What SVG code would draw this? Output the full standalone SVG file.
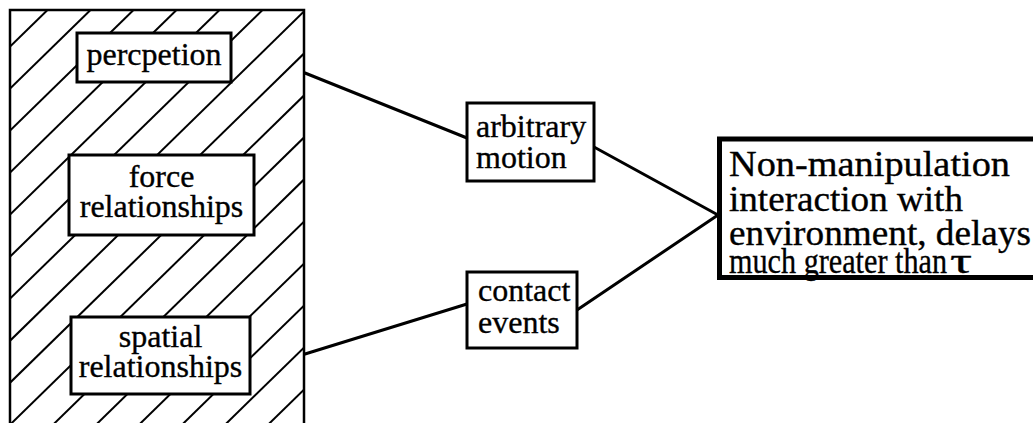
<svg xmlns="http://www.w3.org/2000/svg" width="1033" height="423" viewBox="0 0 1033 423">
<style>
.bg{fill:#fff}
.hatch line{stroke:#000;stroke-width:2}
.node{fill:#fff;stroke:#000;stroke-width:3}
.big{fill:#fff;stroke:#000;stroke-width:5}
.t{font-family:"Liberation Serif","Times New Roman",serif;font-size:32px;fill:#000;stroke:#000;stroke-width:0.35}
.tb{font-family:"Liberation Serif","Times New Roman",serif;font-size:36px;fill:#000;stroke:#000;stroke-width:0.35}
.conn line{stroke:#000;stroke-width:3;stroke-linecap:round}
</style>
<defs>
<clipPath id="clipL"><rect x="10" y="10" width="294" height="420"/></clipPath>
</defs>
<rect class="bg" x="0" y="0" width="1033" height="423"/>
<g id="hatched-region">
<g class="hatch" clip-path="url(#clipL)">
<line x1="47.5" y1="10" x2="-392.6" y2="440"/>
<line x1="90.5" y1="10" x2="-349.6" y2="440"/>
<line x1="133.5" y1="10" x2="-306.6" y2="440"/>
<line x1="176.5" y1="10" x2="-263.6" y2="440"/>
<line x1="219.5" y1="10" x2="-220.6" y2="440"/>
<line x1="262.5" y1="10" x2="-177.6" y2="440"/>
<line x1="305.5" y1="10" x2="-134.6" y2="440"/>
<line x1="348.5" y1="10" x2="-91.6" y2="440"/>
<line x1="391.5" y1="10" x2="-48.6" y2="440"/>
<line x1="434.5" y1="10" x2="-5.6" y2="440"/>
<line x1="477.5" y1="10" x2="37.4" y2="440"/>
<line x1="520.5" y1="10" x2="80.4" y2="440"/>
<line x1="563.5" y1="10" x2="123.4" y2="440"/>
<line x1="606.5" y1="10" x2="166.4" y2="440"/>
<line x1="649.5" y1="10" x2="209.4" y2="440"/>
<line x1="692.5" y1="10" x2="252.4" y2="440"/>
<line x1="735.5" y1="10" x2="295.4" y2="440"/>
<line x1="778.5" y1="10" x2="338.4" y2="440"/>
</g>
<rect x="10" y="10" width="294" height="430" fill="none" stroke="#000" stroke-width="2.5"/>
</g>
<g class="conn" id="connectors">
<line x1="305" y1="73" x2="467" y2="138"/>
<line x1="594" y1="147" x2="718" y2="215"/>
<line x1="305" y1="354" x2="467" y2="304"/>
<line x1="577" y1="310" x2="718" y2="215"/>
</g>
<g id="percpetion">
<rect class="node" x="77" y="33" width="154" height="49"/>
<text class="t" x="154" y="65" text-anchor="middle">percpetion</text>
</g>
<g id="force-relationships">
<rect class="node" x="69" y="155" width="185" height="80"/>
<text class="t" x="161.5" y="187" text-anchor="middle">force</text>
<text class="t" x="161.5" y="217" text-anchor="middle">relationships</text>
</g>
<g id="spatial-relationships">
<rect class="node" x="71" y="317" width="179" height="77"/>
<text class="t" x="160.5" y="347" text-anchor="middle">spatial</text>
<text class="t" x="160.5" y="377" text-anchor="middle">relationships</text>
</g>
<g id="arbitrary-motion">
<rect class="node" x="467" y="103" width="127" height="78"/>
<text class="t" x="476" y="137">arbitrary</text>
<text class="t" x="476" y="168">motion</text>
</g>
<g id="contact-events">
<rect class="node" x="467" y="272" width="110" height="76"/>
<text class="t" x="478" y="301">contact</text>
<text class="t" x="478" y="333">events</text>
</g>
<g id="non-manipulation">
<rect class="big" x="719.5" y="139" width="330" height="138.5"/>
<text class="tb" x="729" y="176" textLength="281" lengthAdjust="spacingAndGlyphs">Non-manipulation</text>
<text class="tb" x="729" y="211" textLength="234" lengthAdjust="spacingAndGlyphs">interaction with</text>
<text class="tb" x="729" y="245" textLength="302" lengthAdjust="spacingAndGlyphs">environment, delays</text>
<text class="tb" x="729" y="273" font-size="33" textLength="218" lengthAdjust="spacingAndGlyphs">much greater than</text>
<text class="tb" x="950" y="273" font-size="34" textLength="22" lengthAdjust="spacingAndGlyphs">τ</text>
</g>
</svg>
